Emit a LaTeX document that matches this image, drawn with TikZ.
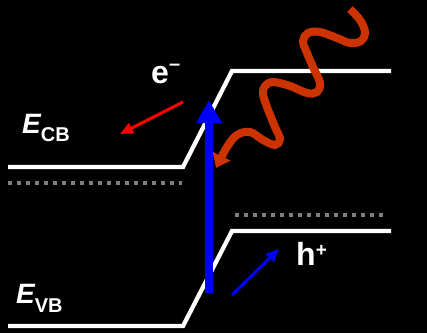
\documentclass[tikz,border=0pt]{standalone}
\usepackage{fontspec}
\setmainfont{Liberation Sans}
\usetikzlibrary{arrows.meta}
\definecolor{waveorange}{RGB}{204,51,0}
\definecolor{dotgray}{RGB}{128,128,128}
\tikzset{
  band/.style={white,line width=4.3pt,line join=miter},
  fermi/.style={dotgray,line width=4pt,dash pattern=on 4pt off 5pt},
  lbl/.style={text=white,inner sep=0pt,anchor=base west,font=\bfseries},
  excite/.style={blue,line width=8pt,-{Triangle[length=23pt,width=24pt]}},
  carrier/.style={line width=3pt,-{Triangle[length=13pt,width=11pt]}},
  photon/.style={waveorange,line width=8pt,line cap=butt,-{Triangle[length=13pt,width=19pt]}}
}
\begin{document}
\begin{tikzpicture}[x=1pt,y=-1pt]
\fill[black] (0,0) rectangle (427,333);
\useasboundingbox (0,0) rectangle (427,333);
% band edges
\draw[band] (8,167) -- (183,167) -- (232,71) -- (391,71);
\draw[band] (8,326) -- (183,326) -- (232,231) -- (391,231);
% quasi-Fermi levels
\draw[fermi] (8,183) -- (182,183);
\draw[fermi] (235,215) -- (384,215);
% labels
\node[lbl] (ecb) at (22,133) {\fontsize{28}{28}\selectfont\itshape E\raisebox{-8pt}{\fontsize{20}{20}\selectfont\upshape CB}};
\node[lbl] (evb) at (16,303) {\fontsize{28}{28}\selectfont\itshape E\raisebox{-9pt}{\fontsize{20}{20}\selectfont\upshape VB}};
\node[lbl] (elec) at (151,83) {\fontsize{32}{32}\selectfont e\raisebox{13pt}{\fontsize{20}{20}\selectfont –}};
\node[lbl] (hole) at (296,265) {\fontsize{32}{32}\selectfont h\raisebox{9pt}{\fontsize{19}{19}\selectfont +}};
% excitation arrow
\coordinate (exA) at (209,293);
\coordinate (exB) at (209,100);
\draw[excite] (exA) -- (exB);
% carriers
\coordinate (eA) at (183,102);
\coordinate (eB) at (120,134);
\draw[carrier,red] (eA) -- (eB);
\coordinate (hA) at (232,295);
\coordinate (hB) at (279,249);
\draw[carrier,blue] (hA) -- (hB);
% photon
\draw[photon] plot[smooth,tension=0.6] coordinates {
 (350,9) (360,20) (365,32) (361,41) (350,43) (337,38) (320,32) (308,33) (303,41)
 (307,53) (313,67) (320,83) (317,92) (307,93) (290,86) (273,82) (265,86) (263,94)
 (267,107) (275,127) (280,139) (275,145) (263,140) (250,132) (237,135) (227,147) (216,168)};
\end{tikzpicture}
\end{document}
